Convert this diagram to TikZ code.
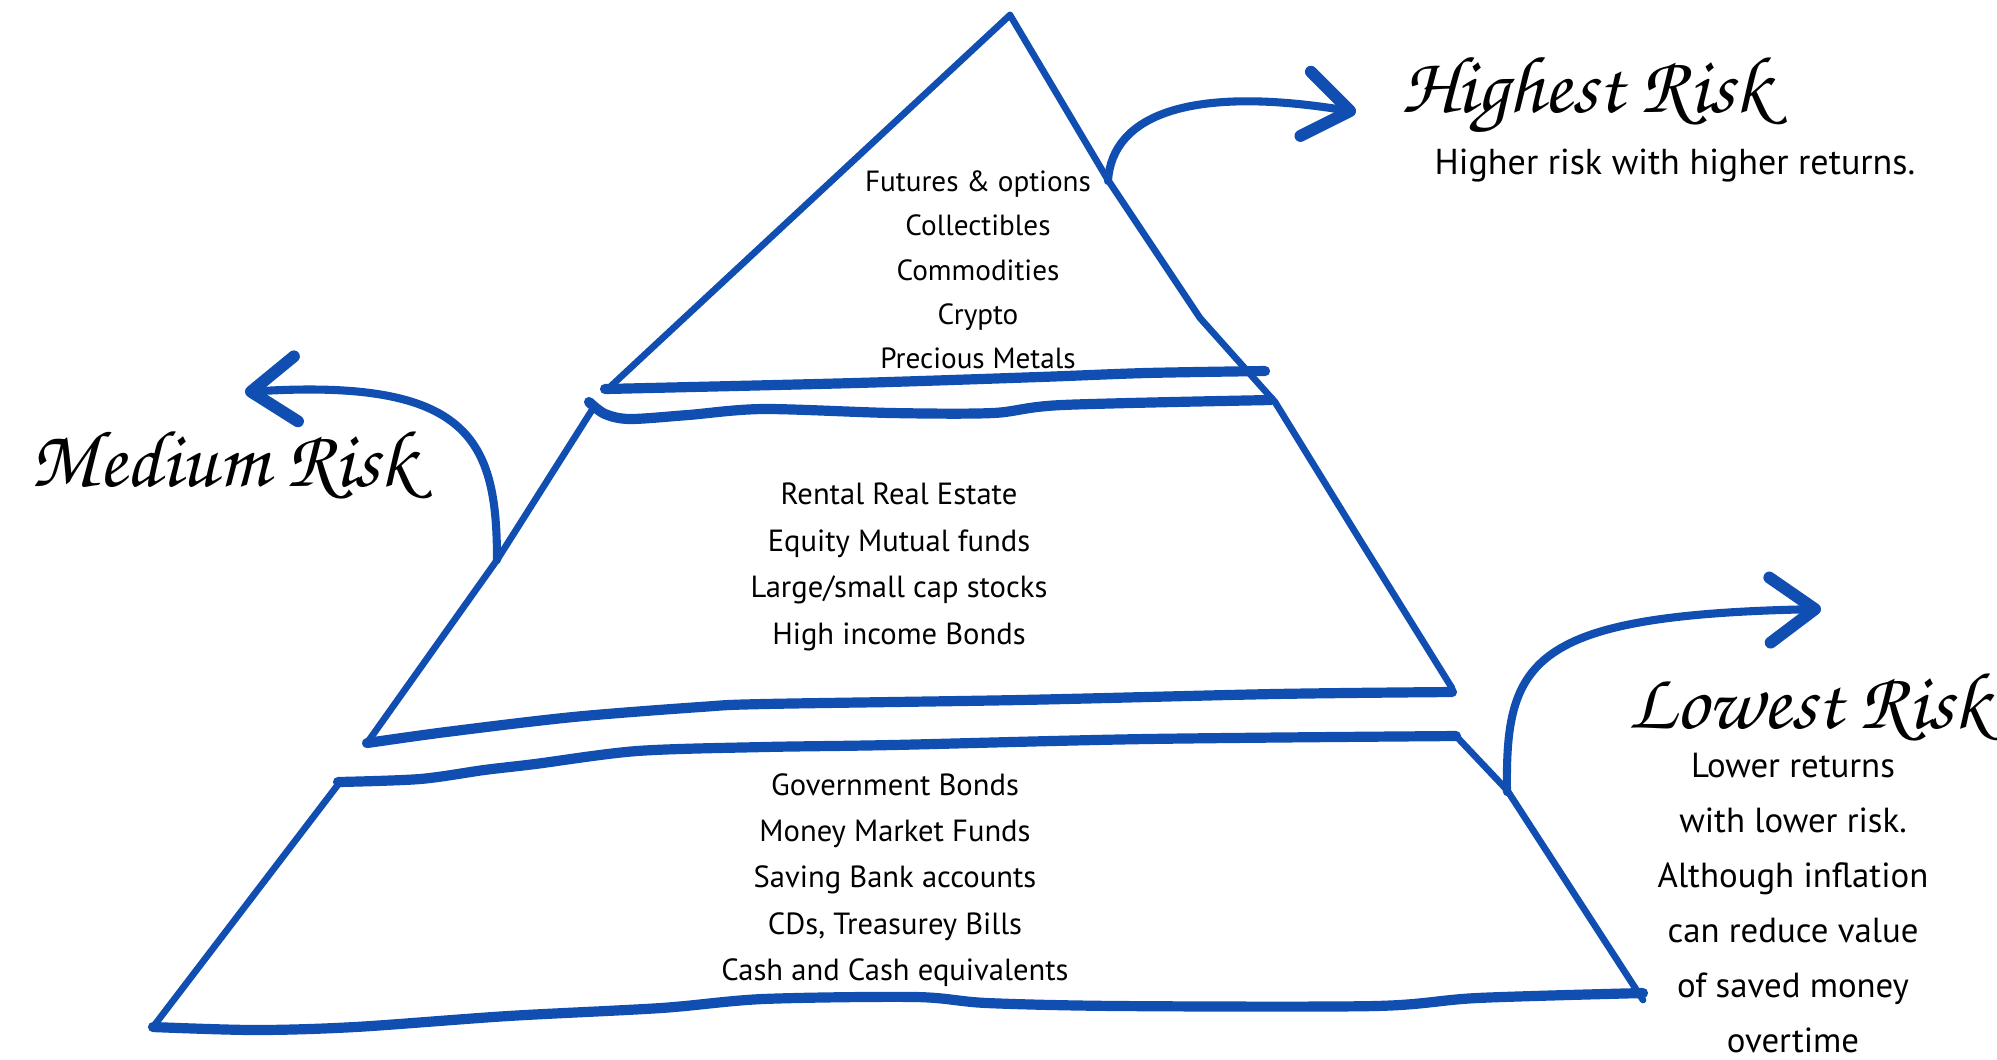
\documentclass[tikz,border=0pt]{standalone}
\usepackage[T1,TU]{fontenc}
\usepackage{fontspec}
\setmainfont{PT Sans}
\usetikzlibrary{arrows.meta}
\definecolor{pen}{RGB}{16,78,178}
\newcommand{\brushfont}{\fontencoding{T1}\fontfamily{pzc}\fontseries{mb}\fontshape{it}\selectfont}

\begin{document}
\begin{tikzpicture}[
  x=0.01cm, y=-0.01cm,
  side/.style={draw=pen, line width=1.9pt, line cap=round, line join=round},
  rim/.style={draw=pen, line width=2.9pt, line cap=round, line join=round},
  pointer/.style={draw=pen, line width=2.3pt, line cap=round,
    -{Straight Barb[length=4.5mm, width=6.5mm, line width=3.4pt, line cap=round, line join=round]}},
  item/.style={align=center, font=\fontsize{8.7}{13.2}\selectfont},
  heading/.style={font=\brushfont\fontsize{23}{26}\selectfont},
  note/.style={align=center, font=\fontsize{9.9}{15.6}\selectfont}]

\useasboundingbox (0,0) rectangle (1997,1059);

% top layer
\draw[side] (611,386) -- (1010,15);
\draw[side] (1010,15) -- (1108,180) -- (1200,318) -- (1275,402);
\draw[rim] plot[smooth, tension=0.5] coordinates {(605,389) (855,383) (1039,377) (1146,373) (1265,371)};

% middle layer
\draw[rim] plot[smooth, tension=0.5] coordinates {(589,402) (605,414) (630,419) (688,415) (763,409) (892,413) (993,413) (1062,405) (1271,400)};
\draw[side] (592,410) -- (497,560) -- (367,743);
\draw[side] (1275,402) -- (1360,540) -- (1452,688);
\draw[rim] plot[smooth, tension=0.5] coordinates {(367,743) (446,732) (573,717) (700,707) (764,704) (1019,700) (1274,694) (1452,692)};

% bottom layer
\draw[rim] plot[smooth, tension=0.5] coordinates {(338,782) (420,779) (484,770) (535,764) (637,751) (764,747) (892,745) (1146,739) (1456,736)};
\draw[side] (340,782) -- (153,1027);
\draw[side] (1456,736) -- (1507,790) -- (1643,1000);
\draw[rim] plot[smooth, tension=0.5] coordinates {(153,1027) (255,1030) (355,1027) (508,1016) (661,1008) (763,999) (916,997) (987,1003) (1120,1006) (1375,1006) (1477,998) (1643,993)};

% items
\node[item, font=\fontsize{8.3}{12.6}\selectfont] (top) at (978,270) {Futures \& options\\Collectibles\\Commodities\\Crypto\\Precious Metals};
\node[item] (mid) at (899,567) {Rental Real Estate\\Equity Mutual funds\\Large/small cap stocks\\High income Bonds};
\node[item] (base) at (895,880) {Government Bonds\\Money Market Funds\\Saving Bank accounts\\CDs, Treasurey Bills\\Cash and Cash equivalents};

% risk labels
\node[heading] (hi) at (1586,96) {Highest Risk};
\node[note, font=\fontsize{10.25}{15}\selectfont] (hinote) at (1675,166) {Higher risk with higher returns.};
\node[heading] (med) at (223,465) {Medium Risk};
\node[heading] (lo) at (1809,707) {Lowest Risk};
\node[note, inner sep=0pt] (lonote) at (1793,903) {Lower returns\\with lower risk.\\Although inflation\\can reduce value\\of saved money\\overtime};

% pointers
\coordinate (hs) at (1108,181);
\coordinate (he) at (1356,112);
\coordinate (ms) at (497,560);
\coordinate (me) at (245,392);
\coordinate (ls) at (1507,792);
\coordinate (le) at (1821,609);
\draw[pointer] (hs) .. controls (1112,115) and (1190,85) .. (he);
\draw[pointer] (ms) .. controls (497,440) and (470,378) .. (me);
\draw[pointer] (ls) .. controls (1505,660) and (1530,615) .. (le);

\end{tikzpicture}
\end{document}
